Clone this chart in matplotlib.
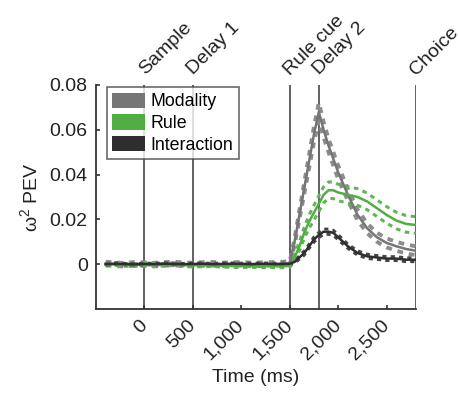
import numpy as np
import matplotlib
matplotlib.use("Agg")
import matplotlib.pyplot as plt
from matplotlib.patches import Patch

plt.rcParams['font.family'] = ['Liberation Sans', 'DejaVu Sans']

# time points (ms)
times = [-400, -300, -200, -100, 0, 100, 200, 300, 400, 500, 600, 700, 800, 900,
         1000, 1100, 1200, 1300, 1400, 1500, 1550, 1600, 1650, 1700, 1750, 1800,
         1850, 1900, 1950, 2000, 2050, 2100, 2200, 2300, 2400, 2500, 2600, 2700, 2800]

# omega^2 PEV for each factor
modality = [0.0003, 0.0000, -0.0003, 0.0002, 0.0000, -0.0002, 0.0001, 0.0003, 0.0000, -0.0002,
            0.0001, 0.0002, -0.0001, 0.0000, 0.0002, -0.0001, 0.0000, 0.0001, 0.0002, 0.0005,
            0.010, 0.022, 0.034, 0.046, 0.058, 0.068,
            0.060, 0.053, 0.047, 0.041, 0.036, 0.031, 0.022, 0.016, 0.012, 0.0095, 0.008, 0.0068, 0.006]
modality_sem = [0.0008] * 20 + [0.0015, 0.002, 0.0025, 0.003, 0.0035, 0.004,
                                0.0035, 0.003, 0.003, 0.003, 0.0028, 0.0026, 0.0024, 0.0022,
                                0.002, 0.002, 0.002, 0.002, 0.002]

rule = [-0.0002, 0.0001, -0.0003, -0.0004, 0.0000, -0.0002, -0.0003, 0.0000, -0.0004, -0.0005,
        -0.0006, -0.0004, -0.0007, -0.0008, -0.0009, -0.0008, -0.0010, -0.0009, -0.0010, -0.0008,
        0.003, 0.008, 0.014, 0.019, 0.023, 0.027,
        0.031, 0.033, 0.033, 0.032, 0.0315, 0.031, 0.030, 0.028, 0.025, 0.022, 0.0195, 0.018, 0.0175]
rule_sem = [0.0006] * 20 + [0.0015, 0.002, 0.0025, 0.003, 0.0033, 0.0035,
                            0.0036, 0.0037, 0.0037, 0.0037, 0.0037, 0.0037, 0.0037, 0.0037,
                            0.0037, 0.0037, 0.0037, 0.0037, 0.0037]

interaction = [0.0000, 0.0002, 0.0000, -0.0001, 0.0001, 0.0000, 0.0002, 0.0001, 0.0000, 0.0001,
               0.0002, 0.0000, 0.0001, 0.0002, 0.0001, 0.0000, 0.0002, 0.0001, 0.0000, 0.0002,
               0.001, 0.003, 0.005, 0.008, 0.011, 0.013,
               0.0145, 0.0145, 0.014, 0.012, 0.010, 0.008, 0.005, 0.0035, 0.003, 0.0025, 0.0025, 0.002, 0.002]
interaction_sem = [0.0004] * 20 + [0.0006, 0.0008, 0.001, 0.001, 0.0012, 0.0012,
                                   0.0012, 0.0012, 0.0012, 0.0012, 0.0011, 0.001, 0.001, 0.001,
                                   0.0009, 0.0009, 0.0009, 0.0009, 0.0009]

event_times = [0, 500, 1500, 1800, 2800]
event_names = ['Sample', 'Delay 1', 'Rule cue', 'Delay 2', 'Choice']

xticks = [0, 500, 1000, 1500, 2000, 2500]
xtick_labels = ['0', '500', '1,000', '1,500', '2,000', '2,500']
yticks = [0, 0.02, 0.04, 0.06, 0.08]
ytick_labels = ['0', '0.02', '0.04', '0.06', '0.08']

c_mod = '#767676'
c_rule = '#52ad45'
c_int = '#2e2e2e'

fig = plt.figure(figsize=(4.58, 3.99), dpi=100)
ax = fig.add_axes([0.2096, 0.2256, 0.698, 0.5614])

t = np.array(times)
series = [(modality, modality_sem, c_mod, '#8c8c8c', 2.8),
          (rule, rule_sem, c_rule, '#62b556', 2.2),
          (interaction, interaction_sem, c_int, '#444444', 2.0)]
for vals, sem, col, dcol, dlw in series:
    v = np.array(vals)
    s = np.array(sem)
    ax.plot(t, v + s, color=dcol, lw=dlw, dashes=(1.5, 1.5), zorder=2)
    ax.plot(t, v - s, color=dcol, lw=dlw, dashes=(1.5, 1.5), zorder=2)
    ax.plot(t, v, color=col, lw=1.8, zorder=3)

for et in event_times:
    ax.axvline(et, color='#555555', lw=1.3, zorder=1)

ax.set_xlim(-500, 2800)
ax.set_ylim(-0.02, 0.08)
ax.set_xticks(xticks)
ax.set_xticklabels(xtick_labels, rotation=45, ha='right', va='center',
                   rotation_mode='anchor', fontsize=14, color='#222222')
ax.set_yticks(yticks)
ax.set_yticklabels(ytick_labels, fontsize=14, color='#222222')
ax.tick_params(direction='in', length=3, width=1.2, color='#333333')
ax.tick_params(axis='x', pad=10)
ax.tick_params(axis='y', pad=6)
for side in ['top', 'right']:
    ax.spines[side].set_visible(False)
for side in ['left', 'bottom']:
    ax.spines[side].set_color('#333333')
    ax.spines[side].set_linewidth(1.3)

for et, name in zip(event_times, event_names):
    ax.annotate(name, xy=(et, 0.08), xytext=(-2, 9), textcoords='offset points',
                rotation=45, ha='left', va='center', rotation_mode='anchor',
                fontsize=14, color='#222222', annotation_clip=False)

ax.set_xlabel('Time (ms)', fontsize=14, color='#222222', labelpad=4)
ax.set_ylabel(r'$\mathregular{\omega^2}$ PEV', fontsize=14, color='#222222', labelpad=6)

handles = [Patch(facecolor=c_mod, edgecolor='none', label='Modality'),
           Patch(facecolor=c_rule, edgecolor='none', label='Rule'),
           Patch(facecolor=c_int, edgecolor='none', label='Interaction')]
leg = ax.legend(handles=handles, loc='upper left', bbox_to_anchor=(0.034, 0.99),
                fontsize=12.8, frameon=True, fancybox=False, borderpad=0.3,
                handlelength=1.85, handleheight=0.95, handletextpad=0.3,
                labelspacing=0.22, borderaxespad=0)
leg.get_frame().set_edgecolor('#444444')
leg.get_frame().set_linewidth(1.2)
leg.set_zorder(5)

fig.savefig('out.png', dpi=100)
